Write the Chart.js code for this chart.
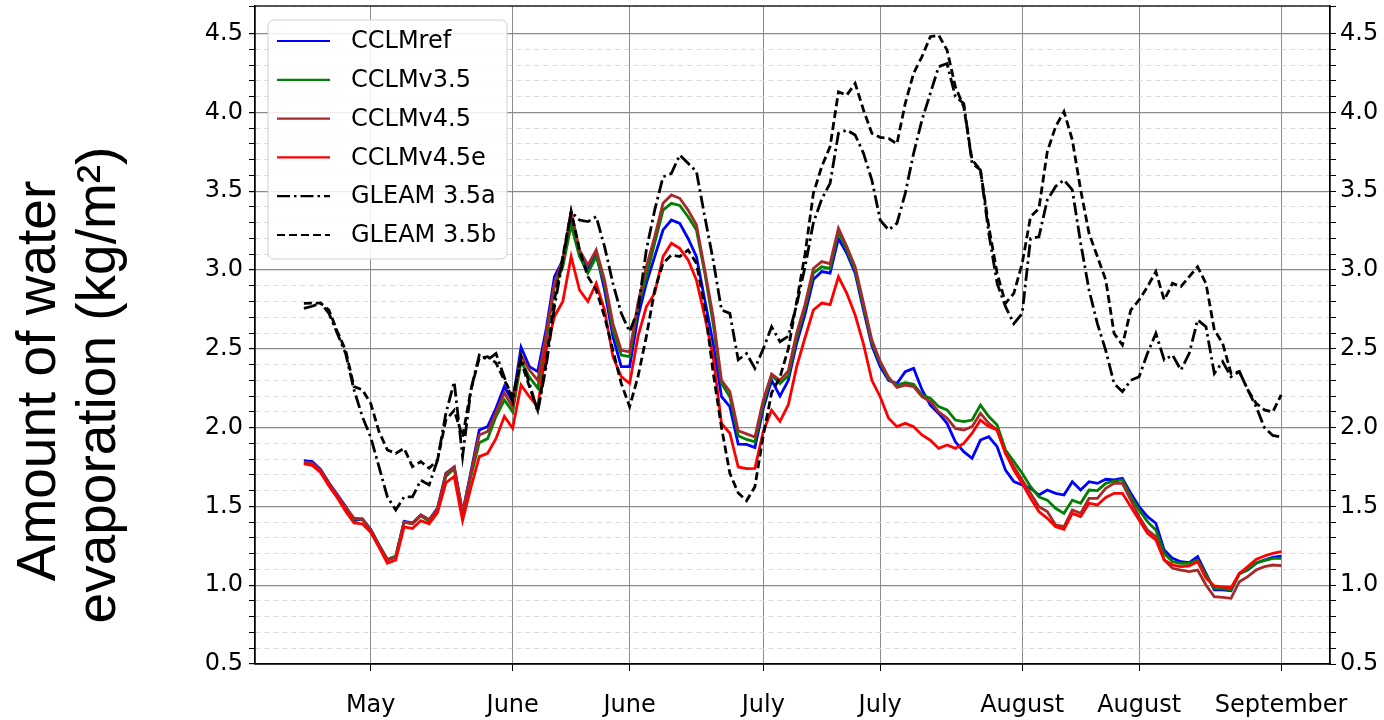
<!DOCTYPE html>
<html>
<head>
<meta charset="utf-8">
<script src="https://cdn.jsdelivr.net/npm/chart.js@4.4.1/dist/chart.umd.min.js"></script>
<style>
  html, body { margin: 0; padding: 0; background: #fff; }
  #wrap { width: 1384px; height: 720px; position: relative; }
</style>
</head>
<body>
<div id="wrap"><canvas id="myChart"></canvas></div>
<script>
// x = day index of the season, 0..117
const tickPos = [8, 25, 39, 55, 69, 86, 100, 117];
const tickLabels = ['May', 'June', 'June', 'July', 'July', 'August', 'August', 'September'];

const cclmRef = [1.79,1.785,1.735,1.65,1.575,1.50,1.41,1.42,1.355,1.255,1.16,1.18,1.405,1.395,1.445,1.415,1.49,1.71,1.75,1.46,
  1.72,1.985,2.006,2.122,2.26,2.165,2.51,2.387,2.355,2.62,2.958,3.063,3.317,3.106,3.0,3.106,2.873,2.577,2.387,2.387,
  2.704,2.915,3.085,3.254,3.317,3.296,3.20,3.085,2.81,2.535,2.196,2.133,1.895,1.893,1.873,2.12,2.30,2.2,2.3,2.535,
  2.72,2.94,2.99,2.98,3.2,3.106,2.98,2.746,2.52,2.387,2.30,2.28,2.355,2.376,2.24,2.143,2.09,2.027,1.91,1.847,
  1.805,1.921,1.942,1.879,1.73,1.657,1.636,1.615,1.572,1.604,1.583,1.572,1.657,1.604,1.657,1.646,1.672,1.668,1.678,1.583,
  1.498,1.435,1.393,1.223,1.17,1.149,1.143,1.181,1.075,0.97,0.97,0.965,1.075,1.096,1.139,1.16,1.177,1.185];
const cclmV35 = [1.775,1.77,1.725,1.64,1.565,1.49,1.42,1.42,1.35,1.255,1.165,1.185,1.40,1.39,1.44,1.405,1.48,1.69,1.74,1.45,
  1.69,1.904,1.93,2.07,2.175,2.10,2.42,2.32,2.25,2.556,2.894,3.02,3.285,3.085,2.98,3.085,2.915,2.62,2.46,2.45,
  2.767,2.958,3.17,3.38,3.423,3.41,3.338,3.254,2.98,2.66,2.28,2.196,1.948,1.925,1.91,2.15,2.33,2.28,2.33,2.57,
  2.76,2.98,3.02,3.01,3.243,3.127,3.0,2.77,2.54,2.41,2.31,2.27,2.285,2.275,2.207,2.186,2.133,2.112,2.048,2.038,
  2.048,2.143,2.07,2.016,1.858,1.784,1.71,1.625,1.56,1.54,1.488,1.456,1.54,1.52,1.604,1.60,1.646,1.661,1.668,1.562,
  1.477,1.403,1.35,1.202,1.149,1.139,1.139,1.16,1.065,0.98,0.978,0.97,1.071,1.10,1.143,1.156,1.17,1.17];
const cclmV45 = [1.78,1.775,1.73,1.645,1.57,1.495,1.425,1.42,1.35,1.25,1.16,1.18,1.40,1.39,1.445,1.415,1.485,1.705,1.75,1.46,
  1.71,1.953,1.975,2.095,2.22,2.13,2.46,2.365,2.30,2.587,2.915,3.063,3.37,3.127,3.03,3.127,2.936,2.66,2.49,2.48,
  2.79,3.02,3.21,3.423,3.476,3.455,3.38,3.285,3.0,2.704,2.30,2.228,1.98,1.96,1.94,2.175,2.34,2.30,2.36,2.6,
  2.78,3.01,3.053,3.04,3.264,3.148,3.02,2.79,2.556,2.42,2.32,2.255,2.27,2.26,2.196,2.165,2.10,2.06,1.995,1.985,
  2.006,2.09,2.027,1.985,1.837,1.752,1.668,1.583,1.498,1.467,1.382,1.371,1.477,1.456,1.551,1.551,1.615,1.646,1.646,1.54,
  1.435,1.35,1.308,1.16,1.107,1.096,1.086,1.096,1.001,0.927,0.923,0.917,1.022,1.054,1.096,1.118,1.128,1.124];
const cclmV45e = [1.77,1.76,1.715,1.63,1.555,1.47,1.395,1.39,1.335,1.24,1.14,1.16,1.37,1.36,1.41,1.39,1.46,1.65,1.69,1.41,
  1.62,1.816,1.837,1.93,2.07,1.995,2.27,2.196,2.133,2.49,2.704,2.80,3.085,2.873,2.80,2.915,2.746,2.45,2.323,2.28,
  2.577,2.767,2.852,3.085,3.17,3.137,3.063,2.936,2.704,2.45,2.027,1.964,1.75,1.74,1.741,1.975,2.11,2.04,2.145,2.387,
  2.57,2.746,2.79,2.78,2.957,2.852,2.714,2.53,2.30,2.196,2.06,2.006,2.027,2.006,1.953,1.92,1.868,1.89,1.868,1.90,
  1.964,2.048,2.006,1.985,1.837,1.731,1.646,1.551,1.467,1.424,1.371,1.355,1.456,1.435,1.52,1.509,1.557,1.583,1.583,1.498,
  1.414,1.329,1.287,1.16,1.128,1.118,1.122,1.149,1.044,0.995,0.99,0.984,1.075,1.118,1.164,1.185,1.202,1.213];
const gleamA = [2.757,2.77,2.79,2.725,2.598,2.47,2.24,2.07,1.94,1.75,1.56,1.477,1.56,1.56,1.666,1.636,1.794,2.09,2.29,1.816,
  2.24,2.46,2.43,2.47,2.32,2.165,2.45,2.28,2.10,2.387,2.767,3.063,3.37,3.317,3.307,3.338,3.148,2.915,2.725,2.608,
  2.746,3.127,3.38,3.59,3.613,3.73,3.677,3.624,3.338,3.063,2.746,2.725,2.43,2.47,2.376,2.5,2.64,2.545,2.58,2.78,
  3.02,3.3,3.45,3.55,3.867,3.888,3.857,3.74,3.571,3.317,3.254,3.296,3.486,3.74,3.952,4.12,4.29,4.31,4.10,4.057,
  3.677,3.635,3.233,2.915,2.767,2.66,2.725,3.2,3.21,3.444,3.53,3.571,3.508,3.17,2.873,2.66,2.49,2.28,2.228,2.30,
  2.323,2.471,2.598,2.429,2.46,2.365,2.471,2.683,2.64,2.344,2.418,2.323,2.355,2.24,2.133,2.0,1.95,1.94];
const gleamB = [2.788,2.79,2.79,2.746,2.61,2.49,2.26,2.24,2.154,1.974,1.858,1.836,1.868,1.752,1.784,1.742,1.794,2.048,2.11,1.94,
  2.24,2.44,2.45,2.41,2.30,2.2,2.42,2.26,2.11,2.41,2.81,3.085,3.37,3.127,2.958,2.873,2.704,2.49,2.28,2.133,
  2.323,2.577,2.873,3.042,3.095,3.085,3.127,3.042,2.767,2.35,2.0,1.71,1.585,1.536,1.625,1.95,2.22,2.32,2.5,2.8,
  3.1,3.486,3.656,3.783,4.13,4.11,4.184,4.015,3.867,3.842,3.835,3.80,4.057,4.248,4.354,4.48,4.49,4.396,4.163,4.036,
  3.698,3.635,3.275,2.979,2.789,2.852,3.042,3.338,3.39,3.75,3.91,4.005,3.825,3.508,3.233,3.085,2.937,2.598,2.524,2.746,
  2.81,2.894,2.99,2.81,2.915,2.894,2.958,3.02,2.915,2.62,2.535,2.344,2.355,2.24,2.154,2.112,2.10,2.207];

const pts = arr => arr.map((v, i) => ({ x: i, y: v }));
const isMajor = v => Math.abs(v * 2 - Math.round(v * 2)) < 1e-6;
const tickFont = { family: 'DejaVu Sans', size: 24 };

const datasets = [
  { label: 'CCLMref', data: pts(cclmRef), borderColor: '#0000ff', order: 6 },
  { label: 'CCLMv3.5', data: pts(cclmV35), borderColor: '#008000', order: 5 },
  { label: 'CCLMv4.5', data: pts(cclmV45), borderColor: '#a52a2a', order: 4 },
  { label: 'CCLMv4.5e', data: pts(cclmV45e), borderColor: '#ff0000', order: 3 },
  { label: 'GLEAM 3.5a', data: pts(gleamA), borderColor: '#000', borderDash: [13, 4, 2.5, 4], order: 2 },
  { label: 'GLEAM 3.5b', data: pts(gleamB), borderColor: '#000', borderDash: [8, 4], order: 1 }
];
datasets.forEach(d => { d.borderWidth = 2.8; d.pointRadius = 0; d.fill = false; d.tension = 0; });

// frame, in-plot legend and the rotated y title
const decor = {
  id: 'decor',
  afterDraw(chart) {
    const { ctx, chartArea: a } = chart;
    ctx.save();
    ctx.strokeStyle = '#000';
    ctx.lineWidth = 1.3;
    ctx.strokeRect(a.left, a.top, a.right - a.left, a.bottom - a.top);

    // legend
    const bx = 268, by = 20, bw = 239, bh = 239, r = 6;
    ctx.beginPath();
    ctx.roundRect(bx, by, bw, bh, r);
    ctx.fillStyle = 'rgba(255,255,255,0.85)';
    ctx.fill();
    ctx.strokeStyle = '#d0d0d0';
    ctx.lineWidth = 1;
    ctx.stroke();
    ctx.font = '24px "DejaVu Sans"';
    ctx.textBaseline = 'middle';
    ctx.textAlign = 'left';
    chart.data.datasets.forEach((d, k) => {
      const y = 41 + k * 38.8;
      ctx.beginPath();
      ctx.setLineDash(d.borderDash || []);
      ctx.strokeStyle = d.borderColor;
      ctx.lineWidth = 2.2;
      ctx.moveTo(277, y);
      ctx.lineTo(330, y);
      ctx.stroke();
      ctx.setLineDash([]);
      ctx.fillStyle = '#000';
      ctx.fillText(d.label, 351, y + 1);
    });

    // y axis title
    ctx.fillStyle = '#000';
    ctx.font = '55px "Liberation Sans"';
    ctx.textAlign = 'center';
    ctx.textBaseline = 'alphabetic';
    [['Amount of water', 55, 381], ['evaporation (kg/m\u00b2)', 115, 385]].forEach(([t, x, y]) => {
      ctx.save();
      ctx.translate(x, y);
      ctx.rotate(-Math.PI / 2);
      ctx.fillText(t, 0, 0);
      ctx.restore();
    });
    ctx.restore();
  }
};

const yTicks = (pad) => ({
  stepSize: 0.1, autoSkip: false, padding: pad, color: '#000', font: tickFont,
  callback: v => isMajor(v) ? v.toFixed(1) : ''
});
const noPadY = w => s => { s.width = w; s.paddingTop = 0; s.paddingBottom = 0; };

new Chart(document.getElementById('myChart'), {
  type: 'line',
  data: { datasets: datasets },
  options: {
    responsive: true,
    maintainAspectRatio: false,
    animation: false,
    devicePixelRatio: 1,
    layout: { padding: { top: 6, left: 0, right: 0, bottom: 0 } },
    plugins: { legend: { display: false }, tooltip: { enabled: false } },
    scales: {
      x: {
        type: 'linear', min: -5.85, max: 122.85,
        afterBuildTicks: s => { s.ticks = tickPos.map(v => ({ value: v })); },
        afterFit: s => { s.height = 56; s.paddingLeft = 0; s.paddingRight = 0; },
        ticks: { autoSkip: false, maxRotation: 0, padding: 20, color: '#000', font: tickFont,
          callback: (v, i) => tickLabels[i] },
        grid: { color: '#8c8c8c', lineWidth: 1, tickColor: '#000', tickLength: 7 },
        border: { color: '#000', width: 1.3 }
      },
      y: {
        position: 'left', min: 0.5, max: 4.675,
        afterFit: noPadY(255),
        ticks: yTicks(6),
        grid: {
          color: c => isMajor(c.tick.value) ? '#8a8a8a' : '#dadada',
          lineWidth: c => isMajor(c.tick.value) ? 1.2 : 1,
          tickColor: '#000', tickLength: 6
        },
        border: { color: '#000', width: 1.3,
          dash: c => (c.tick && !isMajor(c.tick.value)) ? [5, 4] : [] }
      },
      y2: {
        position: 'right', min: 0.5, max: 4.675,
        afterFit: noPadY(54),
        ticks: yTicks(4),
        grid: { drawOnChartArea: false, tickColor: '#000', tickLength: 6 },
        border: { color: '#000', width: 1.3 }
      }
    }
  },
  plugins: [decor]
});
</script>
</body>
</html>
